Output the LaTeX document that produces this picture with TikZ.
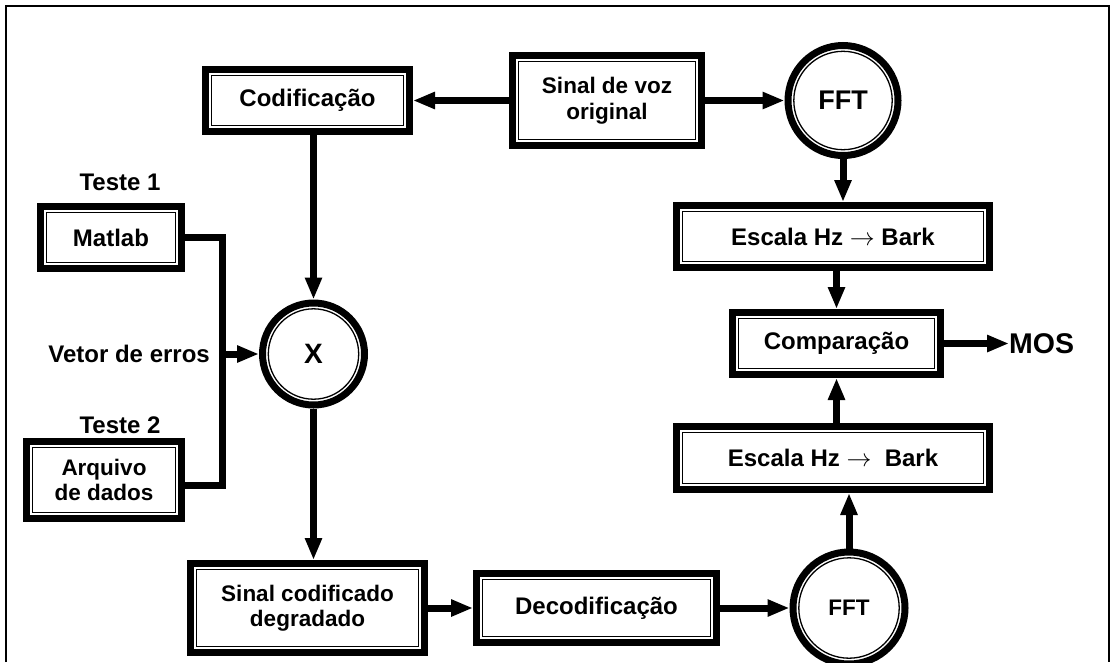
\documentclass[tikz,border=0pt]{standalone}
\usepackage{fontspec}
\setmainfont{Liberation Sans}
\usetikzlibrary{arrows.meta,calc}

\tikzset{
  txt/.style={font=\bfseries\fontsize{24}{27}\selectfont, align=center, inner sep=0pt},
  small/.style={font=\bfseries\fontsize{22.5}{25.5}\selectfont},
  dbox/.style={txt, draw, rectangle, line width=7pt, fill=white,
    path picture={\draw[line width=1.3pt]
      ([shift={(5.8pt,-5.8pt)}]path picture bounding box.north west) rectangle
      ([shift={(-5.8pt,5.8pt)}]path picture bounding box.south east);}},
  dcirc/.style={txt, draw, circle, line width=7pt, fill=white,
    path picture={\draw[line width=1.3pt]
      let \p1=($(path picture bounding box.east)-(path picture bounding box.center)$) in
      (path picture bounding box.center) circle ({\x1-5.8pt});}},
  conn/.style={line width=7pt, -{Triangle[length=22pt,width=16pt]}},
  wire/.style={line width=7pt, line join=miter},
  lbl/.style={txt},
}

\begin{document}
\begin{tikzpicture}[x=1pt,y=-1pt]
  \useasboundingbox (0,0) rectangle (1115,662);
  % outer frame
  \draw[line width=2pt] (6,662) -- (6,6) -- (1109,6) -- (1109,662);

  % signal chain on the left
  \node[dbox, minimum width=204, minimum height=62] (cod) at (307.5,100.5) {Codificação};
  \node[dbox, small, minimum width=189, minimum height=90] (sv) at (607,100.5) {Sinal de voz\\original};
  \node[dcirc, font=\bfseries\fontsize{28}{30}\selectfont, minimum size=102] (x) at (313.5,354) {X};
  \node[dbox, small, minimum width=234, minimum height=89] (scd) at (307.5,608) {Sinal codificado\\degradado};
  \node[dbox, minimum width=240, minimum height=69] (dec) at (596.5,608) {Decodificação};

  % error vector sources
  \node[dbox, minimum width=141, minimum height=62] (mat) at (111,237.5) {Matlab};
  \node[dbox, small, minimum width=155, minimum height=77] (arq) at (104,480) {Arquivo\\de dados};
  \node[lbl] (t1) at (120,182) {Teste 1};
  \node[lbl] (t2) at (120,425) {Teste 2};
  \node[lbl, anchor=east] (ve) at (210,354) {Vetor de erros};
  \coordinate (j) at (222,354);

  % perceptual comparison on the right
  \node[dcirc, font=\bfseries\fontsize{27}{29}\selectfont, minimum size=110] (f1) at (843,100.5) {FFT};
  \node[dbox, minimum width=313, minimum height=62] (e1) at (833,236.5) {Escala Hz $\rightarrow$ Bark};
  \node[dbox, minimum width=208, minimum height=62] (cmp) at (836.5,343.5) {Comparação};
  \node[dbox, minimum width=313, minimum height=63] (e2) at (833,458) {Escala Hz $\rightarrow$\ \ Bark};
  \node[dcirc, small, minimum size=112] (f2) at (849,608) {FFT};
  \node[txt, font=\bfseries\fontsize{28.5}{30}\selectfont, anchor=west] (mos) at (1009,343.5) {MOS};

  % connectors
  \draw[conn] (sv.west) -- (cod.east);
  \draw[conn] (sv.east) -- (f1.west);
  \draw[conn] (x.north |- cod.south) -- (x.north);
  \draw[conn] (x.south) -- (x.south |- scd.north);
  \draw[conn] (scd.east) -- (dec.west);
  \draw[conn] (dec.east) -- (f2.west);
  \draw[wire] (mat.east) -| (j);
  \draw[wire] ([yshift=-5pt]arq.east) -| (j);
  \draw[conn] (j) -- (x.west);
  \draw[conn] (f1.south) -- (f1.south |- e1.north);
  \draw[conn] (cmp.north |- e1.south) -- (cmp.north);
  \draw[conn] (f2.north) -- (f2.north |- e2.south);
  \draw[conn] (cmp.south |- e2.north) -- (cmp.south);
  \draw[conn] (cmp.east) -- (mos.west);
\end{tikzpicture}
\end{document}
